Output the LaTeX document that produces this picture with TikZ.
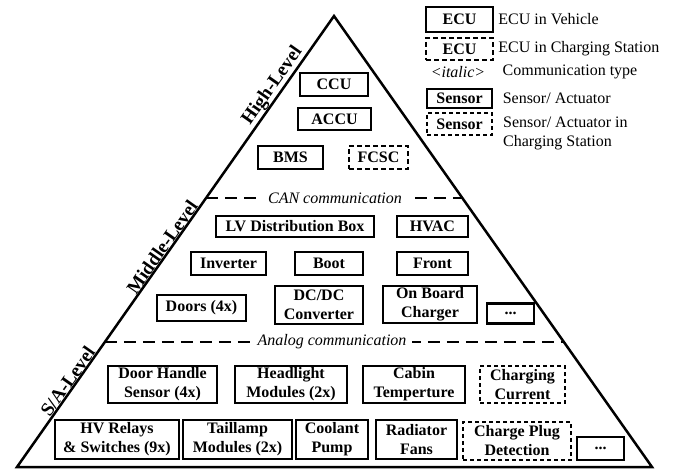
\documentclass[tikz,border=0pt]{standalone}
\usepackage{fontspec}
\setmainfont{Liberation Serif}
\usetikzlibrary{positioning,calc}

\begin{document}
\begin{tikzpicture}[
  x=1pt, y=-1pt,
  txt/.style={font=\fontsize{16}{19}\selectfont},
  ecu/.style={draw,line width=2.2pt,align=center,inner sep=1pt,font=\fontsize{16}{19}\selectfont\bfseries},
  ecucs/.style={ecu,dash pattern=on 5pt off 3pt},
  sensor/.style={ecu,line width=1.1pt},
  sensorcs/.style={sensor,dash pattern=on 4pt off 3pt},
  sz/.style 2 args={minimum width=#1pt,minimum height=#2pt},
  sep/.style={line width=2pt,dash pattern=on 12pt off 7pt},
  comm/.style={fill=white,inner xsep=6pt,inner ysep=1pt,font=\fontsize{16}{19}\selectfont\itshape},
  lvl/.style={sloped,above,inner sep=1pt,font=\fontsize{19}{22}\selectfont\bfseries},
  lg/.style={txt,anchor=west,inner sep=0pt,align=left},
]
  \useasboundingbox (0,0) rectangle (676,470);
  % pyramid
  \coordinate (apex) at (334,16);
  \coordinate (bl) at (17,467);
  \coordinate (br) at (652,467);
  \draw[line width=2.5pt] (apex) -- (bl) -- (br) -- cycle;
  % level borders
  \draw[sep] ($(apex)!0.4035!(bl)$) -- ($(apex)!0.4035!(br)$);
  \draw[sep] ($(apex)!0.7228!(bl)$) -- ($(apex)!0.7228!(br)$);
  \node[comm] (can) at (335,198) {CAN communication};
  \node[comm] (analog) at (332,342) {Analog communication};
  % level names
  \path (bl) -- (apex)
    node[lvl,pos=0.18] (lvlsa) {S/A-Level}
    node[lvl,pos=0.478] (lvlmid) {Middle-Level}
    node[lvl,pos=0.832] (lvlhigh) {High-Level};
  % high level
  \node[ecu,sz={68}{23}] (ccu) at (334,84.5) {CCU};
  \node[ecu,sz={73}{22}] (accu) at (334.5,119) {ACCU};
  \node[ecu,sz={65}{23}] (bms) at (290.5,157.5) {BMS};
  \node[ecucs,sz={59}{23}] (fcsc) at (378.5,157.5) {FCSC};
  % middle level
  \node[ecu,sz={158}{21}] (lvbox) at (295,226.5) {LV Distribution Box};
  \node[ecu,sz={71}{21}] (hvac) at (432.5,226.5) {HVAC};
  \node[ecu,sz={75}{23}] (inv) at (228.5,263.5) {Inverter};
  \node[ecu,sz={68}{23}] (boot) at (329,263.5) {Boot};
  \node[ecu,sz={71}{23}] (front) at (432.5,263.5) {Front};
  \node[ecu,sz={89}{26}] (doors) at (201.5,308) {Doors (4x)};
  \node[ecu,sz={88}{38}] (dcdc) at (319,305) {DC/DC\\Converter};
  \node[ecu,sz={94}{37}] (obc) at (430,304.5) {On Board\\Charger};
  \node[ecu,sz={47}{20}] (moreecu) at (510.5,313.5) {...};
  % sensor / actuator level
  \node[sensor,sz={109}{37}] (dhs) at (162.5,384.5) {Door Handle\\Sensor (4x)};
  \node[sensor,sz={112}{37}] (head) at (291,384.5) {Headlight\\Modules (2x)};
  \node[sensor,sz={102}{37}] (cabin) at (414,384.5) {Cabin\\Temperture};
  \node[sensorcs,sz={85}{37}] (chcur) at (522.5,384.5) {Charging\\Current};
  \node[sensor,sz={124}{39}] (hvrel) at (117,439.5) {HV Relays\\\& Switches (9x)};
  \node[sensor,sz={109}{39}] (tail) at (237.5,439.5) {Taillamp\\Modules (2x)};
  \node[sensor,sz={72}{39}] (cool) at (332,439.5) {Coolant\\Pump};
  \node[sensor,sz={81}{39}] (rad) at (416.5,439.5) {Radiator\\Fans};
  \node[sensorcs,sz={108}{38}] (plug) at (517,441) {Charge Plug\\Detection};
  \node[sensor,sz={47}{23}] (moresa) at (600.5,448.5) {...};
  % legend
  \node[ecu,sz={67}{25}] (lgecu) at (459.5,19.5) {ECU};
  \node[lg,right=4pt of lgecu] (lgecutxt) {ECU in Vehicle};
  \node[ecucs,sz={67}{22}] (lgecucs) at (459.5,49) {ECU};
  \node[lg,right=4pt of lgecucs] (lgecucstxt) {ECU in Charging Station};
  \node[txt,inner sep=0pt] (lgcomm) at (458,72) {\textit{<italic>}};
  \node[lg,right=17pt of lgcomm] (lgcommtxt) {Communication type};
  \node[sensor,sz={65}{19}] (lgsen) at (459.5,98.5) {Sensor};
  \node[lg,right=10pt of lgsen] (lgsentxt) {Sensor/ Actuator};
  \node[sensorcs,sz={65}{22}] (lgsencs) at (459.5,124) {Sensor};
  \node[lg,anchor=north west] (lgsencstxt) at (503,117) {Sensor/ Actuator in\\Charging Station};
\end{tikzpicture}
\end{document}
